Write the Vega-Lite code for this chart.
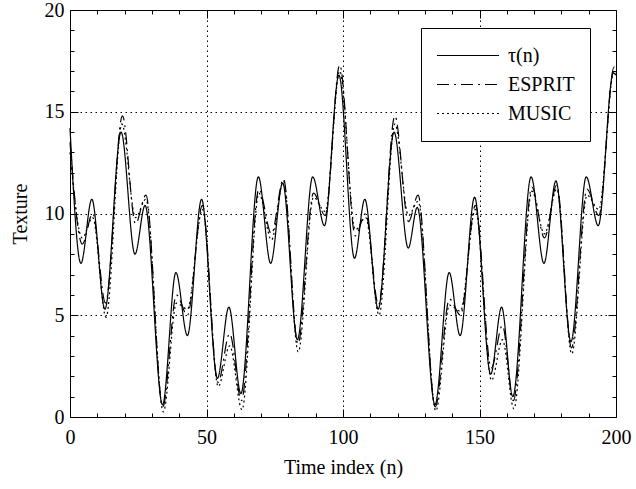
{
  "$schema": "https://vega.github.io/schema/vega-lite/v6.json",
  "width": 546,
  "height": 407,
  "autosize": {"type": "none"},
  "padding": {"left": 70, "top": 10, "right": 20, "bottom": 72},
  "config": {
    "font": "Liberation Serif",
    "view": {"stroke": "black", "strokeWidth": 1},
    "axis": {"domain": false, "labelFlush": false, "labelColor": "black", "titleColor": "black", "tickColor": "black", "labelFontSize": 20, "titleFontSize": 20, "titleFontWeight": "normal", "labelFont": "Liberation Serif", "titleFont": "Liberation Serif"}
  },
  "data": {"values": [
    {"n": 0, "v": 14.2, "s": "τ(n)"},
    {"n": 4.0, "v": 7.55, "s": "τ(n)"},
    {"n": 8.0, "v": 10.7, "s": "τ(n)"},
    {"n": 12.8, "v": 5.3, "s": "τ(n)"},
    {"n": 18.7, "v": 14.0, "s": "τ(n)"},
    {"n": 23.8, "v": 8.0, "s": "τ(n)"},
    {"n": 27.5, "v": 10.4, "s": "τ(n)"},
    {"n": 33.9, "v": 0.6, "s": "τ(n)"},
    {"n": 38.8, "v": 7.1, "s": "τ(n)"},
    {"n": 43.0, "v": 4.0, "s": "τ(n)"},
    {"n": 48.2, "v": 10.7, "s": "τ(n)"},
    {"n": 54.0, "v": 1.9, "s": "τ(n)"},
    {"n": 58.2, "v": 5.4, "s": "τ(n)"},
    {"n": 62.6, "v": 1.15, "s": "τ(n)"},
    {"n": 69.0, "v": 11.8, "s": "τ(n)"},
    {"n": 73.5, "v": 7.55, "s": "τ(n)"},
    {"n": 77.9, "v": 11.5, "s": "τ(n)"},
    {"n": 83.3, "v": 3.8, "s": "τ(n)"},
    {"n": 88.9, "v": 11.8, "s": "τ(n)"},
    {"n": 93.2, "v": 9.4, "s": "τ(n)"},
    {"n": 98.5, "v": 16.8, "s": "τ(n)"},
    {"n": 104.2, "v": 7.8, "s": "τ(n)"},
    {"n": 108.0, "v": 10.7, "s": "τ(n)"},
    {"n": 112.9, "v": 5.3, "s": "τ(n)"},
    {"n": 118.7, "v": 14.0, "s": "τ(n)"},
    {"n": 123.9, "v": 8.3, "s": "τ(n)"},
    {"n": 127.2, "v": 10.3, "s": "τ(n)"},
    {"n": 133.7, "v": 0.6, "s": "τ(n)"},
    {"n": 138.9, "v": 7.1, "s": "τ(n)"},
    {"n": 142.9, "v": 4.0, "s": "τ(n)"},
    {"n": 148.2, "v": 10.8, "s": "τ(n)"},
    {"n": 154.1, "v": 2.1, "s": "τ(n)"},
    {"n": 158.1, "v": 5.4, "s": "τ(n)"},
    {"n": 162.2, "v": 1.0, "s": "τ(n)"},
    {"n": 168.9, "v": 11.8, "s": "τ(n)"},
    {"n": 173.6, "v": 7.55, "s": "τ(n)"},
    {"n": 178.0, "v": 11.6, "s": "τ(n)"},
    {"n": 183.5, "v": 3.7, "s": "τ(n)"},
    {"n": 189.1, "v": 11.8, "s": "τ(n)"},
    {"n": 193.5, "v": 9.4, "s": "τ(n)"},
    {"n": 199.0, "v": 16.9, "s": "τ(n)"},
    {"n": 200, "v": 16.8, "s": "τ(n)"},

    {"n": 0, "v": 13.5, "s": "ESPRIT"},
    {"n": 4.5, "v": 8.5, "s": "ESPRIT"},
    {"n": 8.3, "v": 10.0, "s": "ESPRIT"},
    {"n": 13.0, "v": 5.6, "s": "ESPRIT"},
    {"n": 19.2, "v": 14.8, "s": "ESPRIT"},
    {"n": 24.0, "v": 9.5, "s": "ESPRIT"},
    {"n": 27.8, "v": 10.9, "s": "ESPRIT"},
    {"n": 34.0, "v": 0.5, "s": "ESPRIT"},
    {"n": 39.0, "v": 6.0, "s": "ESPRIT"},
    {"n": 43.0, "v": 5.0, "s": "ESPRIT"},
    {"n": 48.5, "v": 10.4, "s": "ESPRIT"},
    {"n": 54.2, "v": 1.7, "s": "ESPRIT"},
    {"n": 58.5, "v": 4.1, "s": "ESPRIT"},
    {"n": 62.8, "v": 0.8, "s": "ESPRIT"},
    {"n": 69.2, "v": 11.2, "s": "ESPRIT"},
    {"n": 73.8, "v": 9.0, "s": "ESPRIT"},
    {"n": 78.2, "v": 11.7, "s": "ESPRIT"},
    {"n": 83.5, "v": 3.6, "s": "ESPRIT"},
    {"n": 89.2, "v": 11.0, "s": "ESPRIT"},
    {"n": 93.5, "v": 9.9, "s": "ESPRIT"},
    {"n": 98.8, "v": 17.3, "s": "ESPRIT"},
    {"n": 104.5, "v": 8.9, "s": "ESPRIT"},
    {"n": 108.3, "v": 10.0, "s": "ESPRIT"},
    {"n": 113.0, "v": 5.5, "s": "ESPRIT"},
    {"n": 119.0, "v": 14.8, "s": "ESPRIT"},
    {"n": 124.0, "v": 9.6, "s": "ESPRIT"},
    {"n": 127.5, "v": 10.9, "s": "ESPRIT"},
    {"n": 133.8, "v": 0.5, "s": "ESPRIT"},
    {"n": 139.0, "v": 5.8, "s": "ESPRIT"},
    {"n": 143.0, "v": 5.0, "s": "ESPRIT"},
    {"n": 148.5, "v": 10.4, "s": "ESPRIT"},
    {"n": 154.3, "v": 2.4, "s": "ESPRIT"},
    {"n": 158.4, "v": 4.5, "s": "ESPRIT"},
    {"n": 162.4, "v": 0.8, "s": "ESPRIT"},
    {"n": 169.2, "v": 11.3, "s": "ESPRIT"},
    {"n": 173.8, "v": 8.8, "s": "ESPRIT"},
    {"n": 178.3, "v": 11.4, "s": "ESPRIT"},
    {"n": 183.7, "v": 3.4, "s": "ESPRIT"},
    {"n": 189.4, "v": 11.2, "s": "ESPRIT"},
    {"n": 193.7, "v": 9.9, "s": "ESPRIT"},
    {"n": 199.3, "v": 17.2, "s": "ESPRIT"},
    {"n": 200, "v": 17.1, "s": "ESPRIT"},

    {"n": 0, "v": 13.0, "s": "MUSIC"},
    {"n": 4.5, "v": 8.8, "s": "MUSIC"},
    {"n": 8.3, "v": 9.8, "s": "MUSIC"},
    {"n": 13.2, "v": 4.9, "s": "MUSIC"},
    {"n": 19.0, "v": 14.4, "s": "MUSIC"},
    {"n": 24.0, "v": 9.8, "s": "MUSIC"},
    {"n": 27.8, "v": 10.7, "s": "MUSIC"},
    {"n": 34.2, "v": 0.25, "s": "MUSIC"},
    {"n": 39.0, "v": 5.6, "s": "MUSIC"},
    {"n": 43.0, "v": 5.3, "s": "MUSIC"},
    {"n": 48.5, "v": 10.2, "s": "MUSIC"},
    {"n": 54.3, "v": 1.5, "s": "MUSIC"},
    {"n": 58.5, "v": 3.5, "s": "MUSIC"},
    {"n": 63.0, "v": 0.35, "s": "MUSIC"},
    {"n": 69.2, "v": 11.0, "s": "MUSIC"},
    {"n": 73.8, "v": 8.7, "s": "MUSIC"},
    {"n": 78.2, "v": 11.6, "s": "MUSIC"},
    {"n": 83.6, "v": 3.2, "s": "MUSIC"},
    {"n": 89.2, "v": 10.8, "s": "MUSIC"},
    {"n": 93.5, "v": 10.1, "s": "MUSIC"},
    {"n": 98.8, "v": 17.0, "s": "MUSIC"},
    {"n": 104.5, "v": 9.2, "s": "MUSIC"},
    {"n": 108.3, "v": 9.8, "s": "MUSIC"},
    {"n": 113.2, "v": 5.0, "s": "MUSIC"},
    {"n": 119.0, "v": 14.4, "s": "MUSIC"},
    {"n": 124.0, "v": 9.9, "s": "MUSIC"},
    {"n": 127.5, "v": 10.6, "s": "MUSIC"},
    {"n": 134.0, "v": 0.3, "s": "MUSIC"},
    {"n": 139.0, "v": 5.5, "s": "MUSIC"},
    {"n": 143.0, "v": 5.2, "s": "MUSIC"},
    {"n": 148.5, "v": 10.2, "s": "MUSIC"},
    {"n": 154.4, "v": 1.8, "s": "MUSIC"},
    {"n": 158.4, "v": 3.8, "s": "MUSIC"},
    {"n": 162.6, "v": 0.4, "s": "MUSIC"},
    {"n": 169.2, "v": 11.1, "s": "MUSIC"},
    {"n": 173.8, "v": 9.0, "s": "MUSIC"},
    {"n": 178.3, "v": 11.2, "s": "MUSIC"},
    {"n": 183.8, "v": 3.1, "s": "MUSIC"},
    {"n": 189.4, "v": 10.9, "s": "MUSIC"},
    {"n": 193.7, "v": 10.2, "s": "MUSIC"},
    {"n": 199.3, "v": 17.0, "s": "MUSIC"},
    {"n": 200, "v": 16.9, "s": "MUSIC"}
  ]},
  "layer": [
    {
      "mark": {"type": "line", "interpolate": "monotone", "color": "black", "strokeWidth": 1.2},
      "encoding": {
        "x": {"field": "n", "type": "quantitative", "scale": {"domain": [0, 200], "nice": false, "zero": false},
          "axis": {"orient": "bottom", "title": "Time index (n)", "labelFlush": false, "values": [0,10,20,30,40,50,60,70,80,90,100,110,120,130,140,150,160,170,180,190,200],
            "labelExpr": "datum.value % 50 === 0 ? datum.label : ''",
            "tickSize": {"condition": {"test": "datum.value % 50 === 0", "value": -8}, "value": -4},
            "labelPadding": 18, "titlePadding": 10,
            "grid": true, "gridColor": "black", "gridDash": [1.5, 3.5], "gridWidth": 1,
            "gridOpacity": {"condition": {"test": "datum.value % 50 === 0 && datum.value > 0 && datum.value < 200", "value": 1}, "value": 0}}},
        "y": {"field": "v", "type": "quantitative", "scale": {"domain": [0, 20], "nice": false},
          "axis": {"orient": "left", "title": "Texture", "labelFlush": false, "values": [0,1,2,3,4,5,6,7,8,9,10,11,12,13,14,15,16,17,18,19,20],
            "labelExpr": "datum.value % 5 === 0 ? datum.label : ''",
            "tickSize": {"condition": {"test": "datum.value % 5 === 0", "value": -8}, "value": -4},
            "labelPadding": 14, "titlePadding": 14,
            "grid": true, "gridColor": "black", "gridDash": [1.5, 3.5], "gridWidth": 1,
            "gridOpacity": {"condition": {"test": "datum.value % 5 === 0 && datum.value > 0 && datum.value < 20", "value": 1}, "value": 0}}},
        "strokeDash": {"field": "s", "type": "nominal",
          "scale": {"domain": ["τ(n)", "ESPRIT", "MUSIC"], "range": [[1, 0], [12, 5, 2, 5], [2, 3]]},
          "legend": {"title": null, "orient": "none", "legendX": 351, "legendY": 18,
            "symbolType": "stroke", "symbolSize": 3844, "symbolStrokeColor": "black", "symbolStrokeWidth": 1.2,
            "clipHeight": 25, "rowPadding": 4, "padding": 15, "labelOffset": 8,
            "labelFont": "Liberation Serif", "labelFontSize": 20, "labelColor": "black",
            "strokeColor": "black", "fillColor": "white"}}
      }
    },
    {
      "mark": {"type": "point", "opacity": 0},
      "encoding": {
        "x": {"field": "n", "type": "quantitative", "scale": {"domain": [0, 200], "nice": false, "zero": false},
          "axis": {"orient": "top", "title": null, "labels": false, "grid": false, "values": [0,10,20,30,40,50,60,70,80,90,100,110,120,130,140,150,160,170,180,190,200],
            "tickSize": {"condition": {"test": "datum.value % 50 === 0", "value": -8}, "value": -4}}},
        "y": {"field": "v", "type": "quantitative", "scale": {"domain": [0, 20], "nice": false},
          "axis": {"orient": "right", "title": null, "labels": false, "grid": false, "values": [0,1,2,3,4,5,6,7,8,9,10,11,12,13,14,15,16,17,18,19,20],
            "tickSize": {"condition": {"test": "datum.value % 5 === 0", "value": -8}, "value": -4}}}
      }
    }
  ],
  "resolve": {"axis": {"x": "independent", "y": "independent"}}
}
